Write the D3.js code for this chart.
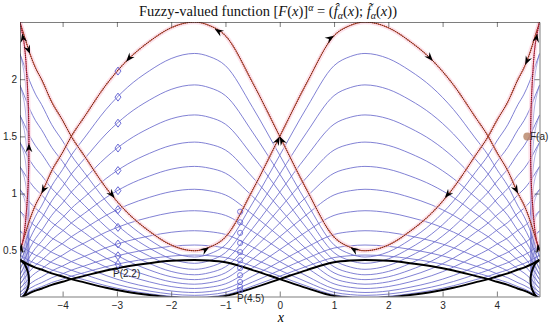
<!DOCTYPE html>
<html>
<head>
<meta charset="utf-8">
<script src="https://cdn.jsdelivr.net/npm/d3@7"></script>
<style>
  body { margin: 0; background: #fff; }
  svg { display: block; }
</style>
</head>
<body>
<svg id="chart" width="550" height="330"></svg>
<script>
var xs = [-4.79, -4.74, -4.6, -4.5, -4.39, -4.2, -4.0, -3.84, -3.6, -3.2, -2.8, -2.4, -2.0, -1.57, -1.3, -1.0, -0.5,
          0, 0.5, 1.0, 1.3, 1.57, 2.0, 2.4, 2.8, 3.2, 3.6, 3.84, 4.0, 4.2, 4.39, 4.5, 4.6, 4.74, 4.79];
// branch running left -> right (red, alpha = 1)
var fHat = [2.5, 2.43, 2.22, 2.1, 2.0, 1.8, 1.64, 1.5, 1.33, 1.05, 0.83, 0.67, 0.55, 0.5, 0.53, 0.62, 1.03,
            1.5, 1.97, 2.38, 2.47, 2.5, 2.45, 2.33, 2.17, 1.95, 1.67, 1.5, 1.36, 1.2, 1.0, 0.9, 0.78, 0.57, 0.5];
// the other branch is the mirror image
var fTilde = fHat.slice().reverse();

// scale factor of every blue alpha-level, plus the red and black ones
var alphaCut = [0.89, 0.78, 0.675, 0.58, 0.495, 0.415, 0.34, 0.27, 0.22, 0.185];
var redLevel = 1;
var blackLevel = 0.168;

// closing loops at both ends (fraction down the loop, bulge in x units)
var loopT = [0, 0.1, 0.25, 0.4, 0.55, 0.7, 0.85, 0.95, 1];
var loopDx = [0, 0.08, 0.13, 0.158, 0.165, 0.152, 0.11, 0.06, 0];

// arrow positions
var arrowsHat = [-4.6, -3.04, -1.3, 0, 1.0, 2.82, 4.39];
var arrowsTilde = [4.52, 3.04, 1.3, 0, -1.2, -2.83, -4.39];
var arrowsLoopLeft = [0.97, 0.53, 0.05];
var arrowsLoopRight = [0.97, 0.05];

var diamondX = -2.98;
var circleX = -0.73;

var xTicks = [-4, -3, -2, -1, 0, 1, 2, 3, 4];
var yTicks = [0.5, 1, 1.5, 2];

var pL = 20, pR = 539.5, pT = 22, pB = 296.5;

var svg = d3.select("#chart");

var x = d3.scaleLinear().domain([-4.785, 4.785]).range([pL, pR]);
var y = d3.scaleLinear().domain([0.1, 2.5]).range([pB, pT]);

// piecewise readers of the branches
var hatAt = d3.scaleLinear().domain(xs).range(fHat);
var tildeAt = d3.scaleLinear().domain(xs).range(fTilde);
var dxAt = d3.scaleLinear().domain(loopT).range(loopDx);

svg.append("defs").append("clipPath").attr("id", "plotclip")
  .append("rect").attr("x", pL).attr("y", pT)
  .attr("width", pR - pL).attr("height", pB - pT);

var plot = svg.append("g").attr("clip-path", "url(#plotclip)");

var line = d3.line()
  .x(function(d) { return x(d[0]); })
  .y(function(d) { return y(d[1]); })
  .curve(d3.curveMonotoneX);

var loopLine = d3.line()
  .x(function(d) { return x(d[0]); })
  .y(function(d) { return y(d[1]); })
  .curve(d3.curveCatmullRom);

function branch(vals, c) {
  return xs.map(function(v, i) { return [v, c * vals[i]]; });
}

function loop(c, side) {
  var yt = c * fHat[0], yb = c * fTilde[0];
  return loopT.map(function(t, i) {
    var xv = side < 0 ? x.domain()[0] + loopDx[i] : x.domain()[1] - loopDx[i];
    return [xv, yt - (yt - yb) * t];
  });
}

// blue alpha-levels
alphaCut.forEach(function(c) {
  [fHat, fTilde].forEach(function(vals) {
    plot.append("path")
      .attr("d", line(branch(vals, c)))
      .attr("fill", "none")
      .attr("stroke", "#6a6acc")
      .attr("stroke-width", 0.85);
  });
  [-1, 1].forEach(function(s) {
    plot.append("path")
      .attr("d", loopLine(loop(c, s)))
      .attr("fill", "none")
      .attr("stroke", "#6a6acc")
      .attr("stroke-width", 0.7)
      .attr("opacity", 0.75);
  });
});

// black lowest level
[fHat, fTilde].forEach(function(vals) {
  plot.append("path")
    .attr("d", line(branch(vals, blackLevel)))
    .attr("fill", "none")
    .attr("stroke", "#000")
    .attr("stroke-width", 2);
});
[-1, 1].forEach(function(s) {
  plot.append("path")
    .attr("d", loopLine(loop(blackLevel, s)))
    .attr("fill", "none")
    .attr("stroke", "#000")
    .attr("stroke-width", 2);
});

// red top level: pink halo, then dotted line
var redPaths = [line(branch(fHat, redLevel)), line(branch(fTilde, redLevel)),
                loopLine(loop(redLevel, -1)), loopLine(loop(redLevel, 1))];
redPaths.forEach(function(p) {
  plot.append("path").attr("d", p).attr("fill", "none")
    .attr("stroke", "#fbcfdd").attr("stroke-width", 4.5).attr("opacity", 0.6);
});
redPaths.forEach(function(p, i) {
  plot.append("path").attr("d", p).attr("fill", "none")
    .attr("stroke", i < 2 ? "#c44a30" : "#d8305a").attr("stroke-width", 1);
  plot.append("path").attr("d", p).attr("fill", "none")
    .attr("stroke", "#5e2212").attr("stroke-width", 1.2)
    .attr("stroke-dasharray", "0.8,1.3");
});

// diamonds on the tilde branch, circles on the hat branch
var levels = [redLevel].concat(alphaCut);
plot.selectAll(".diamond").data(levels).enter().append("path")
  .attr("class", "diamond")
  .attr("transform", function(c) { return "translate(" + x(diamondX) + "," + y(c * tildeAt(diamondX)) + ")"; })
  .attr("d", "M0,-4L3,0L0,4L-3,0Z")
  .attr("fill", "none").attr("stroke", "#5a5ad0").attr("stroke-width", 0.9);

plot.selectAll(".ring").data(levels).enter().append("circle")
  .attr("class", "ring")
  .attr("cx", x(circleX))
  .attr("cy", function(c) { return y(c * hatAt(circleX)); })
  .attr("r", 2.6)
  .attr("fill", "none").attr("stroke", "#5a5ad0").attr("stroke-width", 0.8);

// arrowheads
var head = "M0,0L-9,-3.4L-6,0L-9,3.4Z";
function arrowAt(px, py, qx, qy) {
  var ang = Math.atan2(qy - py, qx - px) * 180 / Math.PI;
  plot.append("path").attr("d", head).attr("fill", "#000")
    .attr("transform", "translate(" + px + "," + py + ") rotate(" + ang + ")");
}
arrowsHat.forEach(function(v) {
  arrowAt(x(v), y(hatAt(v)), x(v + 0.05), y(hatAt(v + 0.05)));
});
arrowsTilde.forEach(function(v) {
  arrowAt(x(v), y(tildeAt(v)), x(v - 0.05), y(tildeAt(v - 0.05)));
});
function loopArrow(t, side) {
  var yt = fHat[0], yb = fTilde[0];
  var p = function(tt) {
    var xv = side < 0 ? x.domain()[0] + dxAt(tt) : x.domain()[1] - dxAt(tt);
    return [x(xv), y(yt - (yt - yb) * tt)];
  };
  var a = p(t), b = p(Math.max(0, t - 0.03));
  arrowAt(a[0], a[1], b[0], b[1]);
}
arrowsLoopLeft.forEach(function(t) { loopArrow(t, -1); });
arrowsLoopRight.forEach(function(t) { loopArrow(t, 1); });

// F(a) marker
plot.append("circle").attr("cx", x(4.56)).attr("cy", y(1.5)).attr("r", 4)
  .attr("fill", "#b07a5a").attr("opacity", 0.75);

// labels
var lab = svg.append("g").style("font-family", "'Liberation Sans', Arial, sans-serif")
  .style("font-size", "10px").attr("fill", "#262626");
lab.append("text").attr("x", 113).attr("y", 277).text("P(2.2)");
lab.append("text").attr("x", 237).attr("y", 302).text("P(4.5)");
lab.append("text").attr("x", 530).attr("y", 140).text("F(a)");

// axes, MATLAB style box with inward ticks
var axFont = "'Liberation Sans', Arial, sans-serif";
var gx = svg.append("g").attr("transform", "translate(0," + pB + ")")
  .call(d3.axisBottom(x).tickValues(xTicks).tickSizeInner(-5).tickSizeOuter(0).tickPadding(5));
var gxt = svg.append("g").attr("transform", "translate(0," + pT + ")")
  .call(d3.axisTop(x).tickValues(xTicks).tickSizeInner(-5).tickSizeOuter(0).tickFormat(""));
var gy = svg.append("g").attr("transform", "translate(" + pL + ",0)")
  .call(d3.axisLeft(y).tickValues(yTicks).tickSizeInner(-5).tickSizeOuter(0).tickPadding(3).tickFormat(d3.format("")));
var gyr = svg.append("g").attr("transform", "translate(" + pR + ",0)")
  .call(d3.axisRight(y).tickValues(yTicks).tickSizeInner(-5).tickSizeOuter(0).tickFormat(""));
[gx, gxt, gy, gyr].forEach(function(g) {
  g.select(".domain").attr("stroke", "#262626").attr("stroke-width", 0.6);
  g.selectAll(".tick line").attr("stroke", "#262626").attr("stroke-width", 0.6);
  g.selectAll("text").attr("fill", "#262626").style("font-family", axFont).style("font-size", "10px");
});

// x label
svg.append("text").attr("x", (pL + pR) / 2 + 1).attr("y", 322)
  .attr("text-anchor", "middle")
  .style("font-family", "'Liberation Serif', 'DejaVu Serif', serif")
  .style("font-style", "italic").style("font-size", "14px").text("x");

// title
var title = svg.append("text").attr("x", 268).attr("y", 16)
  .attr("text-anchor", "middle")
  .style("font-family", "'Liberation Serif', 'DejaVu Serif', serif")
  .style("font-size", "14.5px").attr("fill", "#111");
var parts = [
  ["Fuzzy-valued function [", 0, false],
  ["F", 0, true], ["(", 0, false], ["x", 0, true], [")]", 0, false],
  ["\u03b1", -5, true],
  [" = (", 5, false],
  ["f\u0302", 0, true], ["\u03b1", 3, true], ["(", -3, false], ["x", 0, true], ["); ", 0, false],
  ["f\u0303", 0, true], ["\u03b1", 3, true], ["(", -3, false], ["x", 0, true], ["))", 0, false]
];
parts.forEach(function(p) {
  var t = title.append("tspan").attr("dy", p[1]).text(p[0]);
  if (p[2]) t.style("font-style", "italic");
  if (p[0] === "\u03b1") t.style("font-size", "10px");
});
</script>
</body>
</html>
